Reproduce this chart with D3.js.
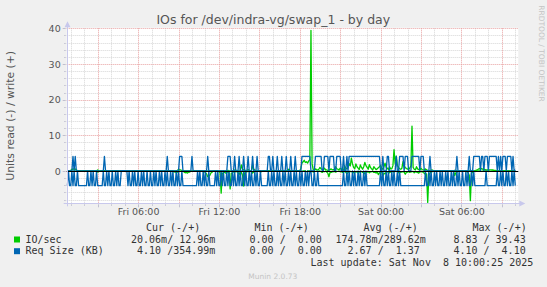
<!DOCTYPE html>
<html>
<head>
<meta charset="utf-8">
<script src="https://cdn.jsdelivr.net/npm/d3@7"></script>
<style>
  body { margin: 0; background: #f0f0f0; }
  text { font-family: "DejaVu Sans", sans-serif; }
  .mono { font-family: "DejaVu Sans Mono", monospace; white-space: pre; }
</style>
</head>
<body>
<script>
// samples every 5 minutes, first at Fri 00:45, last at Sat 10:00
// first row is 00:45..00:55, then one row per hour
var startTime = new Date(2025, 10, 7, 0, 45);
var stepMinutes = 5;

// IO/sec read (plotted below zero)
var ioRead = [0, 0.02, 0,
  0.05, 0, 0.1, 0.05, 0.05, 0, 0, 0, 0, 0, 0.05, 0,          // Fri 01
  0, 0, 0, 0, 0.05, 0, 0, 0, 0, 0, 0, 0,
  0.3, 0.1, 0.1, 0, 0, 0, 0, 0, 0, 0, 0.05, 0,
  0, 0, 0, 0, 0, 0, 0, 0, 0.05, 0, 0, 0,
  0, 0, 0, 0, 0, 0, 0, 0, 0, 0, 0, 0,                       // Fri 05
  0, 0, 0, 0, 0.05, 0, 0, 0, 0, 0, 0, 0,
  0, 0, 0, 0, 0, 0, 0, 0, 0, 0, 0.1, 0,
  0, 0, 0, 0, 0, 0, 0, 0, 0.3, 0.2, 0.5, 0.3,
  0.2, 0, 0.1, 0, 0, 0.3, 0.5, 0.4, 0.6, 0.3, 0.3, 0,
  0.1, 0, 0, 0, 0.1, 0, 0, 0, 0, 0, 0.2, 0.1,               // Fri 10
  0.5, 0.8, 1.6, 1.4, 1.2, 0.5, 0.3, 0, 0, 0, 0, 0,
  0.2, 0.4, 6.2, 0.8, 0.4, 0.3, 0.6, 0.4, 0.2, 0.5, 5.0, 0.6,
  0.5, 0.2, 0.3, 0.1, 0.2, 0.4, 1.0, 0.3, 0.4, 1.2, 4.2, 0.5,
  0.3, 0.1, 0.2, 0.1, 0.1, 0.2, 0.6, 0.2, 0.2, 0.1, 0.1, 0,
  0, 0, 0.2, 0, 0, 0, 0.1, 0, 0, 0, 0, 0,                   // Fri 15
  0, 0, 0, 0, 0.1, 0, 0, 0, 0, 0, 0.2, 0,
  0, 0, 0, 0, 0.1, 0, 0, 0, 0, 0, 0, 0,
  0, 0, 0.1, 0, 0, 0, 0.2, 0, 0, 0, 0.1, 0,
  0.3, 0.1, 0.1, 0, 0.2, 0, 0, 0.2, 0.4, 0.1, 0.2, 0,
  0.3, 0.6, 1.6, 0.4, 0.4, 0.2, 0.2, 0.1, 0.3, 0.1, 0.1, 0, // Fri 20
  0.2, 0.1, 0.4, 0.2, 0.1, 0.3, 0.8, 0.4, 0.3, 0.1, 0.2, 0.3,
  0.5, 0.2, 0.3, 0.1, 0.6, 0.3, 0.2, 0.1, 0.4, 0.2, 0.8, 0.4,
  0.3, 0.1, 0.5, 0.2, 0.2, 0.1, 0.4, 0.3, 0.6, 0.2, 1.0, 0.5,
  0.4, 0.2, 1.5, 0.6, 0.8, 0.3, 0.3, 0.1, 0.5, 0.2, 0.2, 0.1, // Sat 00
  0.3, 0.1, 0.1, 0, 0.5, 0.2, 0.4, 0.2, 0.2, 0.3, 0.9, 0.4,
  0.3, 0.1, 0.4, 0.2, 0.2, 0.1, 0.5, 0.2, 0.3, 0.4, 0.6, 0.2,
  0.2, 0.1, 0.4, 0.6, 1.0, 0.8, 8.83, 1.2, 0.6, 0.3, 0.2, 0.1,
  0.1, 0, 0, 0, 0.1, 0, 0, 0, 0, 0, 0.1, 0,
  0, 0, 0, 0, 0, 0, 1.3, 0.5, 0.4, 0, 0, 0,                 // Sat 05
  0, 0, 0.1, 0, 0.2, 0.1, 0.5, 1.2, 8.3, 0.6, 0.4, 0.1,
  0.1, 0, 0, 0, 0, 0, 0.1, 0, 0, 0, 0, 0,
  0, 0, 0.1, 0, 0, 0, 0, 0, 0.05, 0, 0, 0,
  0, 0, 0, 0, 0.05, 0, 0, 0, 0, 0, 0, 0,
  0.02];

// IO/sec write (plotted above zero)
var ioWrite = [0, 0.05, 0,
  0.2, 0.4, 0.6, 0.5, 0.6, 0.3, 0.1, 0, 0, 0, 0.05, 0,      // Fri 01
  0, 0, 0.05, 0, 0, 0, 0, 0, 0, 0, 0, 0,
  0.3, 0.1, 0, 0, 0, 0, 0.1, 0, 0, 0, 0, 0,
  0, 0, 0, 0, 0, 0, 0, 0, 0, 0, 0, 0,
  0, 0, 0.05, 0, 0, 0, 0, 0, 0, 0, 0, 0,                    // Fri 05
  0, 0, 0, 0, 0, 0, 0, 0, 0.05, 0, 0, 0,
  0, 0, 0, 0, 0, 0, 0, 0, 0, 0, 0, 0,
  0, 0, 0.05, 0, 0, 0, 0, 0, 0, 0, 0.1, 0.2,
  0.4, 0.3, 0.3, 0.1, 0, 0, 0, 0, 0, 0, 0, 0,
  0, 0, 0, 0, 0.1, 0, 0, 0, 0, 0, 0, 0,                     // Fri 10
  0, 0, 0, 0, 0, 0, 0, 0, 0, 0, 0.1, 0,
  0, 0, 0, 0, 0.1, 0, 0, 0, 0.2, 0, 0, 0,
  0, 0, 0.3, 0.1, 0.2, 0, 0, 0, 1.7, 0.6, 0.3, 0,
  0.2, 0.1, 0.4, 0.1, 0, 0, 1.7, 0.5, 0.3, 0, 0, 0,
  0, 0, 0, 0, 0.1, 0, 0, 0, 0, 0, 0, 0,                     // Fri 15
  0, 0, 0.1, 0, 0, 0, 0, 0, 0, 0, 0, 0,
  0, 0, 0.5, 0.2, 0, 0, 0, 0, 0.1, 0, 0, 0,
  0, 0.8, 2.2, 2.6, 3.0, 2.4, 2.6, 2.2, 2.8, 3.2, 39.43, 2.0,
  0.4, 0.2, 0.6, 0.4, 0.3, 0.5, 1.0, 0.6, 0.5, 0.3, 0.8, 0.4,
  0.3, 0.2, 0.2, 0.4, 0.6, 0.3, 0.4, 0.2, 1.2, 0.6, 0.5, 0.3, // Fri 20
  0.8, 0.5, 0.4, 0.2, 1.5, 0.8, 0.6, 1.0, 2.1, 1.4, 3.6, 2.0,
  1.0, 0.6, 2.0, 1.2, 0.8, 0.4, 1.7, 1.0, 0.5, 1.2, 2.4, 1.5,
  1.0, 0.5, 1.8, 1.0, 0.6, 0.3, 1.2, 0.8, 0.4, 0.6, 0.9, 1.2,
  1.6, 0.8, 0.5, 1.2, 2.2, 1.0, 0.8, 0.4, 1.2, 0.6, 0.6, 1.5, // Sat 00
  6.0, 2.0, 4.2, 1.5, 1.0, 0.6, 0.5, 0.8, 2.6, 1.4, 1.0, 0.7,
  0.6, 0.4, 0.8, 1.5, 12.6, 1.0, 0.5, 0.3, 1.2, 0.6, 0.4, 0.3,
  0.8, 0.4, 0.3, 0.2, 0.6, 0.3, 0.2, 0.1, 0.1, 0.2, 0.3, 0.1,
  0.1, 0, 0, 0, 0, 0, 0.05, 0, 0, 0, 0, 0,
  0, 0, 0, 0, 0, 0, 0.2, 0.1, 0.1, 0, 0, 0,                 // Sat 05
  0, 0, 0, 0, 0.1, 0, 0, 0, 0.2, 0.1, 0.1, 0,
  0.1, 0.2, 0.3, 0.5, 0.7, 0.6, 0.7, 0.5, 0.5, 0.4, 0.3, 0.3,
  0.3, 0.3, 0.3, 0.3, 0.3, 0.2, 0.2, 0.1, 0, 0, 0, 0,
  0, 0, 0.05, 0, 0, 0, 0, 0, 0, 0, 0, 0,
  0.013];

// Req Size (KB) read (plotted below zero)
var reqRead = [4.1, 0, 4.1,
  4.1, 0, 4.1, 0, 4.1, 4.1, 0, 4.1, 4.1, 4.1, 4.1, 4.1,     // Fri 01
  4.1, 4.1, 4.1, 0, 4.1, 4.1, 0, 4.1, 0, 4.1, 4.1, 0,
  4.1, 4.1, 4.1, 4.1, 4.1, 0, 4.1, 4.1, 0, 4.1, 0, 4.1,
  4.1, 0, 4.1, 4.1, 0, 4.1, 0, 4.1, 4.1, 0, 0, 0,
  0, 0, 0, 4.1, 0, 4.1, 4.1, 0, 4.1, 0, 4.1, 4.1,           // Fri 05
  0, 4.1, 4.1, 0, 4.1, 0, 4.1, 4.1, 0, 4.1, 4.1, 0,
  4.1, 4.1, 0, 4.1, 0, 4.1, 4.1, 0, 4.1, 0, 4.1, 4.1,
  0, 4.1, 0, 4.1, 4.1, 0, 4.1, 0, 4.1, 4.1, 0, 4.1,
  0, 4.1, 4.1, 0, 4.1, 4.1, 4.1, 4.1, 4.1, 4.1, 4.1, 4.1,
  4.1, 4.1, 4.1, 4.1, 4.1, 0, 4.1, 0, 4.1, 4.1, 0, 4.1,     // Fri 10
  0, 4.1, 4.1, 0, 4.1, 4.1, 4.1, 4.1, 4.1, 0, 4.1, 0,
  4.1, 4.1, 0, 4.1, 0, 4.1, 4.1, 0, 4.1, 0, 4.1, 4.1,
  0, 4.1, 0, 4.1, 4.1, 0, 4.1, 0, 4.1, 4.1, 0, 4.1,
  0, 4.1, 4.1, 0, 4.1, 0, 4.1, 4.1, 0, 4.1, 0, 4.1,
  4.1, 0, 4.1, 4.1, 4.1, 4.1, 4.1, 4.1, 0, 4.1, 4.1, 0,     // Fri 15
  4.1, 0, 4.1, 4.1, 0, 4.1, 0, 4.1, 4.1, 0, 4.1, 0,
  4.1, 4.1, 0, 4.1, 0, 4.1, 4.1, 0, 4.1, 0, 4.1, 4.1,
  0, 4.1, 0, 4.1, 4.1, 0, 4.1, 0, 4.1, 0, 0, 4.1,
  4.1, 0, 4.1, 4.1, 0, 4.1, 4.1, 4.1, 4.1, 4.1, 4.1, 4.1,
  4.1, 4.1, 4.1, 4.1, 4.1, 4.1, 4.1, 4.1, 4.1, 4.1, 4.1, 4.1, // Fri 20
  4.1, 4.1, 4.1, 0, 4.1, 4.1, 0, 4.1, 0, 4.1, 4.1, 0,
  4.1, 0, 4.1, 4.1, 0, 4.1, 0, 4.1, 4.1, 0, 4.1, 0,
  4.1, 4.1, 4.1, 4.1, 4.1, 4.1, 4.1, 4.1, 4.1, 4.1, 4.1, 4.1,
  0, 4.1, 0, 4.1, 4.1, 0, 4.1, 0, 4.1, 4.1, 0, 4.1,         // Sat 00
  0, 4.1, 4.1, 0, 4.1, 0, 4.1, 4.1, 4.1, 4.1, 4.1, 4.1,
  4.1, 4.1, 4.1, 4.1, 4.1, 4.1, 4.1, 4.1, 4.1, 4.1, 4.1, 4.1,
  4.1, 4.1, 4.1, 4.1, 0, 4.1, 4.1, 0, 4.1, 0, 4.1, 4.1,
  0, 4.1, 0, 4.1, 4.1, 0, 4.1, 0, 4.1, 4.1, 0, 4.1,
  0, 4.1, 4.1, 0, 4.1, 0, 4.1, 4.1, 0, 4.1, 0, 4.1,         // Sat 05
  4.1, 0, 4.1, 4.1, 0, 4.1, 0, 4.1, 4.1, 0, 4.1, 0,
  4.1, 4.1, 4.1, 4.1, 4.1, 4.1, 4.1, 4.1, 4.1, 4.1, 0, 4.1,
  4.1, 4.1, 4.1, 4.1, 4.1, 4.1, 4.1, 4.1, 0, 4.1, 4.1, 0,
  4.1, 0, 4.1, 4.1, 0, 4.1, 0, 4.1, 4.1, 0, 4.1, 0,
  4.1];

// Req Size (KB) write (plotted above zero)
var reqWrite = [0, 0, 0,
  0, 0, 4.1, 0, 4.1, 0, 0, 0, 0, 0, 0, 0,                   // Fri 01
  0, 0, 0, 0, 0, 0, 0, 0, 0, 0, 0, 0,
  0, 0, 0, 0, 0, 0, 4.1, 0, 0, 0, 0, 0,
  0, 0, 0, 0, 0, 0, 0, 0, 0, 0, 0, 0,
  0, 0, 0, 0, 0, 0, 0, 0, 0, 0, 0, 0,                       // Fri 05
  0, 0, 0, 0, 0, 0, 0, 0, 0, 0, 0, 0,
  0, 0, 0, 0, 0, 0, 0, 0, 0, 0, 0, 0,
  0, 0, 4.1, 0, 0, 0, 0, 0, 0, 0, 0, 0,
  0, 4.1, 4.1, 4.1, 0, 0, 0, 0, 0, 0, 0, 0,
  4.1, 0, 0, 0, 0, 0, 0, 0, 0, 0, 0, 0,                     // Fri 10
  0, 0, 4.1, 0, 0, 0, 0, 0, 0, 0, 0, 0,
  0, 0, 0, 0, 0, 0, 0, 0, 4.1, 4.1, 4.1, 0,
  0, 0, 4.1, 0, 0, 0, 4.1, 0, 0, 0, 4.1, 0,
  0, 0, 4.1, 0, 0, 0, 4.1, 0, 0, 0, 4.1, 0,
  0, 0, 0, 0, 0, 0, 0, 0, 4.1, 4.1, 0, 0,                   // Fri 15
  4.1, 0, 0, 0, 4.1, 0, 0, 0, 4.1, 0, 0, 0,
  4.1, 0, 0, 0, 4.1, 0, 0, 0, 4.1, 0, 0, 0,
  0, 0, 4.1, 4.1, 4.1, 4.1, 4.1, 4.1, 4.1, 4.1, 0, 0,
  0, 0, 4.1, 4.1, 4.1, 4.1, 4.1, 4.1, 0, 0, 4.1, 4.1,
  4.1, 4.1, 0, 4.1, 4.1, 4.1, 4.1, 0, 0, 4.1, 4.1, 4.1,     // Fri 20
  4.1, 0, 0, 4.1, 0, 0, 4.1, 0, 4.1, 4.1, 4.1, 4.1,
  4.1, 4.1, 4.1, 4.1, 4.1, 4.1, 4.1, 4.1, 4.1, 4.1, 4.1, 4.1,
  4.1, 4.1, 4.1, 4.1, 4.1, 4.1, 4.1, 4.1, 4.1, 4.1, 4.1, 4.1,
  0, 0, 4.1, 0, 0, 0, 4.1, 4.1, 0, 0, 0, 0,                 // Sat 00
  0, 0, 4.1, 0, 0, 4.1, 4.1, 4.1, 4.1, 0, 4.1, 4.1,
  4.1, 0, 0, 0, 4.1, 4.1, 4.1, 4.1, 4.1, 4.1, 4.1, 0,
  4.1, 4.1, 4.1, 0, 0, 0, 0, 0, 4.1, 0, 0, 0,
  0, 0, 0, 0, 0, 0, 0, 0, 0, 0, 0, 0,
  0, 0, 0, 0, 0, 0, 0, 0, 4.1, 0, 0, 0,                     // Sat 05
  0, 0, 0, 0, 0, 0, 0, 4.1, 0, 0, 0, 4.1,
  4.1, 4.1, 4.1, 4.1, 4.1, 0, 4.1, 4.1, 0, 4.1, 4.1, 4.1,
  0, 4.1, 4.1, 4.1, 4.1, 4.1, 4.1, 4.1, 0, 4.1, 0, 4.1,
  0, 4.1, 4.1, 4.1, 0, 4.1, 4.1, 4.1, 4.1, 0, 4.1, 0,
  0.355];

// axis values
var yTicks = [0, 10, 20, 30, 40];
var yMin = -9.05;
var yMax = 40;
var timeStart = new Date(2025, 10, 7, 0, 42);
var timeEnd = new Date(2025, 10, 8, 10, 13, 30);

// legend
var seriesNames = ["IO/sec", "Req Size (KB)"];
var seriesColors = ["#00cc00", "#0066b3"];
var legendHeaders = ["Cur (-/+)", "Min (-/+)", "Avg (-/+)", "Max (-/+)"];
var curText = [" 20.06m/ 12.96m", "  4.10 /354.99m"];
var minText = ["  0.00 /  0.00 ", "  0.00 /  0.00 "];
var avgText = ["174.78m/289.62m", "  2.67 /  1.37 "];
var maxText = ["  8.83 / 39.43 ", "  4.10 /  4.10 "];
var lastUpdate = "Last update: Sat Nov  8 10:00:25 2025";

var svgWidth = 547;
var svgHeight = 287;
var plotLeft = 66.7;
var plotRight = 518.3;
var plotTop = 28.3;
var plotBottom = 203.3;

var svg = d3.select("body")
            .append("svg")
            .attr("width", svgWidth)
            .attr("height", svgHeight);

svg.append("rect")
   .attr("width", svgWidth)
   .attr("height", svgHeight)
   .attr("fill", "#f0f0f0");

var xScale = d3.scaleTime()
               .domain([timeStart, timeEnd])
               .range([plotLeft, plotRight]);

var yScale = d3.scaleLinear()
               .domain([yMin, yMax])
               .range([plotBottom, plotTop]);

// white canvas
svg.append("rect")
   .attr("x", plotLeft)
   .attr("y", plotTop - 0.5)
   .attr("width", plotRight - plotLeft)
   .attr("height", plotBottom - plotTop + 0.5)
   .attr("fill", "#ffffff");

function px(v) { return Math.round(v) + 0.5; }

// grid: hours minor, every 3 hours major
var hours = d3.timeHour.range(timeStart, timeEnd);
var minorHours = hours.filter(function(d) { return d.getHours() % 3 != 0; });
var majorHours = hours.filter(function(d) { return d.getHours() % 3 == 0; });
var minorY = d3.range(-8, 40, 2).filter(function(d) { return d % 10 != 0; });
var majorY = d3.range(0, 41, 10);

var grid = svg.append("g");
grid.selectAll(".vminor")
    .data(minorHours)
    .enter().append("line")
    .attr("x1", function(d) { return px(xScale(d)); })
    .attr("x2", function(d) { return px(xScale(d)); })
    .attr("y1", plotTop)
    .attr("y2", plotBottom)
    .attr("stroke", "#d6d6d6")
    .attr("stroke-dasharray", "1,1");
grid.selectAll(".hminor")
    .data(minorY)
    .enter().append("line")
    .attr("x1", plotLeft)
    .attr("x2", plotRight)
    .attr("y1", function(d) { return px(yScale(d)); })
    .attr("y2", function(d) { return px(yScale(d)); })
    .attr("stroke", "#d6d6d6")
    .attr("stroke-dasharray", "1,1");
grid.selectAll(".vmajor")
    .data(majorHours)
    .enter().append("line")
    .attr("x1", function(d) { return px(xScale(d)); })
    .attr("x2", function(d) { return px(xScale(d)); })
    .attr("y1", plotTop)
    .attr("y2", plotBottom)
    .attr("stroke", "#e8a0a0")
    .attr("stroke-dasharray", "1,1");
grid.selectAll(".hmajor")
    .data(majorY)
    .enter().append("line")
    .attr("x1", plotLeft)
    .attr("x2", plotRight)
    .attr("y1", function(d) { return px(yScale(d)); })
    .attr("y2", function(d) { return px(yScale(d)); })
    .attr("stroke", "#e8a0a0")
    .attr("stroke-dasharray", "1,1");

// series
function toPoints(values, sign) {
  return values.map(function(v, i) {
    return {t: new Date(startTime.getTime() + i * stepMinutes * 60000), v: sign * v};
  });
}

var line = d3.line()
             .x(function(d) { return xScale(d.t); })
             .y(function(d) { return yScale(d.v); });

var series = [
  {values: ioRead, sign: -1, color: seriesColors[0]},
  {values: ioWrite, sign: 1, color: seriesColors[0]},
  {values: reqRead, sign: -1, color: seriesColors[1]},
  {values: reqWrite, sign: 1, color: seriesColors[1]}
];

svg.selectAll(".series")
   .data(series)
   .enter().append("path")
   .attr("class", "series")
   .attr("d", function(d) { return line(toPoints(d.values, d.sign)); })
   .attr("fill", "none")
   .attr("stroke", function(d) { return d.color; })
   .attr("stroke-width", 1.3)
   .attr("stroke-linejoin", "round");

// zero line
svg.append("line")
   .attr("x1", plotLeft)
   .attr("x2", plotRight)
   .attr("y1", px(yScale(0)))
   .attr("y2", px(yScale(0)))
   .attr("stroke", "#000000");

// axes lines with arrows
var axisColor = "#c8c8ec";
svg.append("line")
   .attr("x1", px(plotLeft)).attr("x2", px(plotLeft))
   .attr("y1", plotBottom + 3).attr("y2", plotTop - 5)
   .attr("stroke", axisColor);
svg.append("path")
   .attr("d", "M" + (px(plotLeft) - 3) + "," + (plotTop - 1) + "L" + px(plotLeft) + "," + (plotTop - 7) + "L" + (px(plotLeft) + 3) + "," + (plotTop - 1) + "Z")
   .attr("fill", axisColor);
svg.append("line")
   .attr("x1", plotLeft - 3).attr("x2", plotRight + 2)
   .attr("y1", px(plotBottom)).attr("y2", px(plotBottom))
   .attr("stroke", axisColor);
svg.append("path")
   .attr("d", "M" + (plotRight + 1) + "," + (px(plotBottom) - 3) + "L" + (plotRight + 7) + "," + px(plotBottom) + "L" + (plotRight + 1) + "," + (px(plotBottom) + 3) + "Z")
   .attr("fill", axisColor);

// small ticks on the axes
svg.selectAll(".xtick")
   .data(hours)
   .enter().append("line")
   .attr("x1", function(d) { return px(xScale(d)); })
   .attr("x2", function(d) { return px(xScale(d)); })
   .attr("y1", plotBottom + 1)
   .attr("y2", function(d) { return d.getHours() % 3 == 0 ? plotBottom + 4 : plotBottom + 2.5; })
   .attr("stroke", "#c0c0d0");
svg.selectAll(".ytick")
   .data(minorY.concat(majorY))
   .enter().append("line")
   .attr("x1", function(d) { return d % 10 == 0 ? plotLeft - 4 : plotLeft - 2.5; })
   .attr("x2", plotLeft - 1)
   .attr("y1", function(d) { return px(yScale(d)); })
   .attr("y2", function(d) { return px(yScale(d)); })
   .attr("stroke", "#c0c0d0");

// tick labels
var labelHours = hours.filter(function(d) { return d.getHours() % 6 == 0; });
var xAxis = svg.append("g")
               .attr("transform", "translate(0," + plotBottom + ")")
               .call(d3.axisBottom(xScale)
                       .tickValues(labelHours)
                       .tickFormat(d3.timeFormat("%a %H:%M"))
                       .tickSize(0)
                       .tickPadding(5));
var yAxis = svg.append("g")
               .attr("transform", "translate(" + plotLeft + ",0)")
               .call(d3.axisLeft(yScale)
                       .tickValues(yTicks)
                       .tickSize(0)
                       .tickPadding(6));
svg.selectAll(".domain").remove();
svg.selectAll(".tick text")
   .attr("fill", "#555")
   .style("font-family", "DejaVu Sans")
   .style("font-size", "9.5px");

// title and side texts
svg.append("text")
   .attr("x", 273.3)
   .attr("y", 24)
   .attr("text-anchor", "middle")
   .attr("fill", "#555")
   .style("font-size", "12.5px")
   .text("IOs for /dev/indra-vg/swap_1 - by day");

svg.append("text")
   .attr("transform", "translate(14," + 115.8 + ") rotate(-90)")
   .attr("text-anchor", "middle")
   .attr("fill", "#555")
   .style("font-size", "10.8px")
   .text("Units read (-) / write (+)");

svg.append("text")
   .attr("transform", "translate(538.6,53.5) rotate(90)")
   .attr("text-anchor", "middle")
   .attr("fill", "#c4c4c4")
   .style("font-size", "7.5px")
   .text("RRDTOOL / TOBI OETIKER");

svg.append("text")
   .attr("x", 272.8)
   .attr("y", 279)
   .attr("text-anchor", "middle")
   .attr("fill", "#c4c4c4")
   .style("font-size", "7.5px")
   .text("Munin 2.0.73");

// legend
var headerX = [146, 254.5, 363.5, 472.5];
var columnX = [125, 237.5, 335.5, 441.4];
var rowY = [242.5, 254.2];

svg.selectAll(".lhead")
   .data(legendHeaders)
   .enter().append("text")
   .attr("class", "mono")
   .attr("x", function(d, i) { return headerX[i]; })
   .attr("y", 231)
   .attr("fill", "#333")
   .style("font-size", "10px")
   .text(function(d) { return d; });

var legend = svg.selectAll(".legend")
                .data(seriesNames)
                .enter().append("g")
                .attr("class", "legend")
                .attr("transform", function(d, i) { return "translate(0," + rowY[i] + ")"; });

legend.append("rect")
      .attr("x", 14)
      .attr("y", -6)
      .attr("width", 6)
      .attr("height", 6)
      .attr("fill", function(d, i) { return seriesColors[i]; });

legend.append("text")
      .attr("class", "mono")
      .attr("x", 25.5)
      .attr("y", 0)
      .attr("fill", "#333")
      .style("font-size", "10px")
      .text(function(d) { return d; });

[curText, minText, avgText, maxText].forEach(function(col, c) {
  legend.append("text")
        .attr("class", "mono")
        .attr("x", columnX[c])
        .attr("y", 0)
        .attr("fill", "#333")
        .style("font-size", "10px")
        .text(function(d, i) { return col[i]; });
});

svg.append("text")
   .attr("class", "mono")
   .attr("x", 310.5)
   .attr("y", 266)
   .attr("fill", "#333")
   .style("font-size", "10px")
   .text(lastUpdate);
</script>
</body>
</html>
